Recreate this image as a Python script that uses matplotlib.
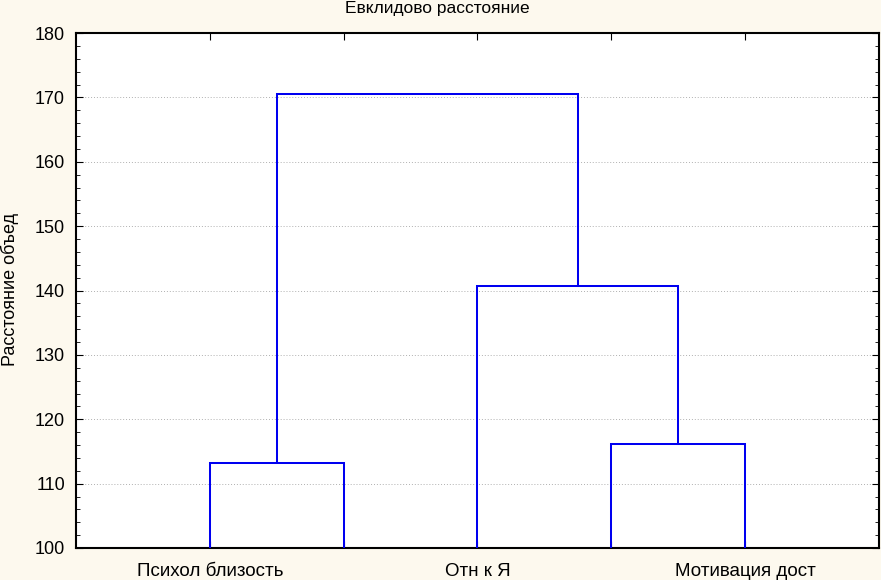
import matplotlib

matplotlib.use("Agg")
import matplotlib.pyplot as plt
from matplotlib.ticker import MultipleLocator

plt.rcParams["font.family"] = ["Liberation Sans", "DejaVu Sans"]

# leaves in dendrogram order (only every other one is labelled on the axis)
leaf_labels = ["Психол близость", "", "Отн к Я", "", "Мотивация дост"]
base_height = 100.0

# merges: (left node, right node, linkage distance); nodes 0..4 are leaves,
# 5.. are clusters created by earlier merges
merges = [
    (0, 1, 113.2),
    (3, 4, 116.1),
    (2, 6, 140.7),
    (5, 7, 170.6),
]

title = "Евклидово расстояние"
ylabel = "Расстояние объед"

fig = plt.figure(figsize=(8.81, 5.80), dpi=100, facecolor="#fdf9ee")
ax = fig.add_axes([76 / 881, 1 - 548 / 580, (879 - 76) / 881, (548 - 33) / 580])
ax.set_facecolor("white")

# x position and height of every node
pos = {i: i + 1 for i in range(len(leaf_labels))}
hgt = {i: base_height for i in range(len(leaf_labels))}
for k, (a, b, d) in enumerate(merges):
    node = len(leaf_labels) + k
    ax.plot([pos[a], pos[a], pos[b], pos[b]], [hgt[a], d, d, hgt[b]],
            color="#0000f0", lw=1.45, solid_joinstyle="miter", zorder=3)
    pos[node] = (pos[a] + pos[b]) / 2
    hgt[node] = d

ax.set_xlim(0, len(leaf_labels) + 1)
ax.set_ylim(100, 180)
ax.set_xticks(range(1, len(leaf_labels) + 1))
ax.set_xticklabels(leaf_labels)
ax.yaxis.set_major_locator(MultipleLocator(10))
ax.yaxis.set_minor_locator(MultipleLocator(2))
ax.grid(axis="y", which="major", color="#b0b0b0", ls=(0, (1, 2)), lw=0.7)

ax.tick_params(axis="both", which="both", direction="in", top=True, right=True,
               colors="black")
ax.tick_params(axis="y", which="major", length=5, pad=8, labelsize=13)
ax.tick_params(axis="y", which="minor", length=3)
ax.tick_params(axis="x", which="major", length=5, pad=11, labelsize=13.5)
for sp in ax.spines.values():
    sp.set_linewidth(1.5)

fig.text(437 / 881, 1 - 9 / 580, title, ha="center", va="center", fontsize=12.5)
fig.text(10 / 881, 1 - 290 / 580, ylabel, rotation=90, ha="center", va="center", fontsize=13)

fig.savefig("out.png", dpi=100, facecolor=fig.get_facecolor())
